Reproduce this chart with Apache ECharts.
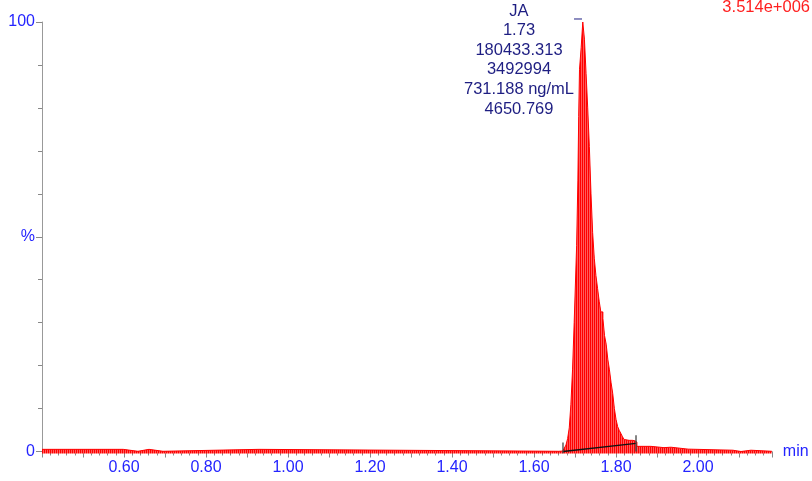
<!DOCTYPE html>
<html>
<head>
<meta charset="utf-8">
<script src="https://cdn.jsdelivr.net/npm/echarts@6/dist/echarts.min.js"></script>
<style>
html,body{margin:0;padding:0;background:#fff;}
#chart{width:812px;height:481px;}
</style>
</head>
<body>
<div id="chart"></div>
<script>
// ---- data (retention time in min, intensity in %) ----
const traceTimes = [
  0.400, 0.598, 0.634, 0.661, 0.695, 0.929, 1.660,
  1.670, 1.674, 1.678, 1.682, 1.686, 1.690, 1.694, 1.698, 1.701, 1.704,
  1.707, 1.709, 1.711, 1.715, 1.719, 1.723, 1.727, 1.731, 1.735, 1.739,
  1.743, 1.747, 1.751, 1.755, 1.759, 1.763, 1.768, 1.772, 1.776, 1.780,
  1.784, 1.788, 1.792, 1.796, 1.800, 1.804, 1.808, 1.812, 1.816, 1.820,
  1.824, 1.832, 1.840, 1.846, 1.851, 1.885, 1.917, 1.934, 1.976, 2.085,
  2.105, 2.129, 2.180
];
const traceValues = [
  0.5, 0.05, 0.5, 0.05, 0.5, 0.05, 0.1,
  0.4, 0.8, 1.5, 3.0, 5.5, 11, 19, 30, 39, 48,
  63, 78, 89, 94, 100, 96, 88, 80, 71, 60,
  51, 45, 41, 38, 35, 32.5, 31, 27, 25, 21.5,
  19, 16, 13.5, 10, 7.5, 5.8, 4.9, 4.2, 3.4, 2.8,
  2.6, 2.6, 2.5, 2.2, 1.2, 0.9, 1.0, 0.55, 0.3, 0.0,
  0.3, 0.05, 0.05
];
// integration baseline: start and end of peak
const integStart = [1.6707, 0.0];
const integEnd = [1.8488, 1.9];
const apexMarkTimes = [1.6976, 1.7171];
const apexMarkLevel = 100.7;

const xLabelValues = [0.6, 0.8, 1.0, 1.2, 1.4, 1.6, 1.8, 2.0];
const yLabelValues = [0, 50, 100];
const yLabelTexts = ['0', '%', '100'];
const peakLabel = ['JA', '1.73', '180433.313', '3492994', '731.188 ng/mL', '4650.769'];
const scaleLabel = '3.514e+006';
const xUnit = 'min';

// ---- styling ----
const FONT = '"Liberation Sans", Arial, sans-serif';
const BLUE = '#2424ff';
const NAVY = '#1e1e82';
const RED = '#ff2020';

// striped fill (vertical lines like the bar-drawn trace)
const pat = document.createElement('canvas');
pat.width = 2; pat.height = 4;
const pctx = pat.getContext('2d');
pctx.fillStyle = '#ff0000'; pctx.fillRect(0, 0, 1, 4);
pctx.fillStyle = '#ff5c5c'; pctx.fillRect(1, 0, 1, 4);

const trace = traceTimes.map((t, i) => [t, traceValues[i]]);

const chart = echarts.init(document.getElementById('chart'), null, {renderer: 'canvas'});
chart.setOption({
  animation: false,
  grid: {left: 42, right: 40.2, top: 22, bottom: 29.5},
  title: {
    text: scaleLabel, right: 2, top: 0, padding: 0,
    textStyle: {color: RED, fontSize: 16.5, fontWeight: 'normal', fontFamily: FONT, lineHeight: 15}
  },
  graphic: [{
    type: 'text', x: 519, y: 1.2,
    style: {
      text: peakLabel.join('\n'), align: 'center', verticalAlign: 'top',
      lineHeight: 19.6, fontSize: 16.5, fontFamily: FONT, fill: NAVY
    }
  }],
  xAxis: {
    type: 'value', min: 0.4, max: 2.18, interval: 0.1,
    name: xUnit, nameLocation: 'end', nameGap: 11,
    nameTextStyle: {color: BLUE, fontSize: 16, fontFamily: FONT, verticalAlign: 'middle', padding: [5, 0, 0, 0]},
    splitLine: {show: false},
    axisLine: {lineStyle: {color: '#999', width: 1}},
    axisTick: {length: 6, lineStyle: {color: '#888'}},
    minorTick: {show: true, splitNumber: 5, length: 4, lineStyle: {color: '#888'}},
    axisLabel: {
      color: BLUE, fontSize: 16, fontFamily: FONT, margin: 8,
      formatter: v => xLabelValues.some(x => Math.abs(x - v) < 1e-6) ? v.toFixed(2) : ''
    }
  },
  yAxis: {
    type: 'value', min: 0, max: 100, interval: 50,
    splitLine: {show: false},
    axisLine: {show: true, lineStyle: {color: '#999', width: 1}},
    axisTick: {show: true, length: 6, lineStyle: {color: '#888'}},
    minorTick: {show: true, splitNumber: 5, length: 4, lineStyle: {color: '#888'}},
    axisLabel: {
      color: BLUE, fontSize: 16, fontFamily: FONT, margin: 7,
      formatter: v => { const i = yLabelValues.indexOf(v); return i >= 0 ? yLabelTexts[i] : ''; }
    }
  },
  series: [
    {
      type: 'line', data: trace, step: 'end', symbol: 'none', clip: false,
      lineStyle: {color: '#ff0000', width: 1},
      areaStyle: {color: {image: pat, repeat: 'repeat'}, opacity: 1, origin: -0.45},
      z: 3
    },
    {
      type: 'line', data: [integStart, integEnd], symbol: 'none', clip: false,
      lineStyle: {color: '#111', width: 1.3}, z: 4
    },
    {
      type: 'line', data: [[integStart[0], -0.4], [integStart[0], 2.1]], symbol: 'none', clip: false,
      lineStyle: {color: '#444', width: 1.3}, z: 4
    },
    {
      type: 'line', data: [[integEnd[0], 0], [integEnd[0], 3.8]], symbol: 'none', clip: false,
      lineStyle: {color: '#444', width: 1.3}, z: 4
    },
    {
      type: 'line', data: apexMarkTimes.map(t => [t, apexMarkLevel]), symbol: 'none', clip: false,
      lineStyle: {color: NAVY, width: 1}, z: 4
    }
  ]
});
</script>
</body>
</html>
